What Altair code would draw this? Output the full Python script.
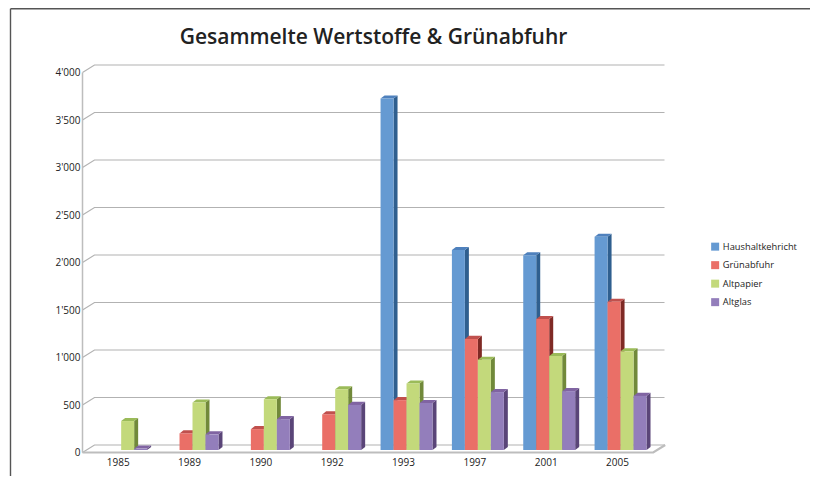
import altair as alt
import pandas as pd

title_text = "Gesammelte Wertstoffe & Grünabfuhr"
years = ["1985", "1989", "1990", "1992", "1993", "1997", "2001", "2005"]
series = ["Haushaltkehricht", "Grünabfuhr", "Altpapier", "Altglas"]
haushalt = [None, None, None, None, 3700, 2105, 2050, 2245]
gruen = [None, 175, 220, 375, 525, 1170, 1380, 1560]
papier = [305, 500, 535, 640, 700, 950, 990, 1040]
glas = [15, 165, 325, 475, 495, 610, 620, 570]
values = [haushalt, gruen, papier, glas]
ticks = [0, 500, 1000, 1500, 2000, 2500, 3000, 3500, 4000]
tick_labels = ["0", "500", "1'000", "1'500", "2'000", "2'500", "3'000", "3'500", "4'000"]
front = ["#659ad2", "#ea6f67", "#c3d97b", "#937ebb"]
side = ["#2f5f8f", "#7f2a25", "#71893a", "#5a4578"]
top = ["#4f81bd", "#c0504d", "#9bbb59", "#8064a2"]

W, H = 582, 387.5
XMAX, YMAX = 8.158, 4079
DX, DY = 0.168, 79          # floor depth, in data units
BW = 0.182                  # bar width
BD_X, BD_Y = 0.056, 32      # bar depth
BASE = 26                   # bar baseline
SHIFT = 0.042

xs = alt.Scale(domain=[0, XMAX], range=[0, W], nice=False, zero=False)
ys = alt.Scale(domain=[0, YMAX], range=[H, 0], nice=False, zero=False)
X = lambda: alt.X("x:Q", scale=xs, axis=None, title=None)
Y = lambda: alt.Y("y:Q", scale=ys, axis=None, title=None)

# walls / grid
grid_rows = []
for t in ticks:
    grid_rows += [{"x": 0, "y": t, "g": t}, {"x": DX, "y": t + DY, "g": t}, {"x": XMAX, "y": t + DY, "g": t}]
grid = alt.Chart(pd.DataFrame(grid_rows)).mark_line(color="#b2b2b2", strokeWidth=1.2, clip=False).encode(
    x=X(), y=Y(), detail="g:N")
floor_df = pd.DataFrame([{"x": 0, "y": 0}, {"x": 8, "y": 0}, {"x": 8 + DX, "y": DY}])
floor = alt.Chart(floor_df).mark_line(color="#bdbdbd", strokeWidth=2.2, clip=False).encode(x=X(), y=Y())
axis_df = pd.DataFrame([{"x": 0, "y": 0}, {"x": 0, "y": 4000}])
yline = alt.Chart(axis_df).mark_line(color="#bdbdbd", strokeWidth=1.5, clip=False).encode(x=X(), y=Y())

ylab = alt.Chart(pd.DataFrame({"x": [0] * 9, "y": ticks, "t": tick_labels})).mark_text(
    align="right", baseline="middle", dx=-2, dy=0.5, fontSize=10, font="Open Sans", color="#222222").encode(
    x=X(), y=Y(), text="t:N")
xlab = alt.Chart(pd.DataFrame({"x": [i + 0.5 for i in range(8)], "y": [0] * 8, "t": years})).mark_text(
    align="center", baseline="middle", dy=10.5, fontSize=10, font="Open Sans", color="#222222").encode(
    x=X(), y=Y(), text="t:N")

layers = [grid, floor, yline, ylab, xlab]

# bars
for s, (name, vals) in enumerate(zip(series, values)):
    front_rows, side_rows, top_rows = [], [], []
    for i, v in enumerate(vals):
        if v is None:
            continue
        xl = i + 0.5 + SHIFT + (s - 2) * BW
        xr = xl + BW
        b, t = BASE, BASE + v
        bid = f"b{s}_{i}"
        front_rows.append({"x": xl, "x2": xr, "y": t, "y2": b, "series": name})
        side_rows += [{"x": xr, "y": t, "y2": b, "id": bid},
                      {"x": xr + BD_X, "y": t + BD_Y, "y2": b + BD_Y, "id": bid}]
        top_rows += [{"x": xl, "y": t, "y2": t, "id": bid},
                     {"x": xl + BD_X, "y": t + BD_Y, "y2": t, "id": bid},
                     {"x": xr, "y": t + BD_Y, "y2": t, "id": bid},
                     {"x": xr + BD_X, "y": t + BD_Y, "y2": t + BD_Y, "id": bid}]
    layers.append(alt.Chart(pd.DataFrame(side_rows)).mark_area(color=side[s], orient="vertical", opacity=1).encode(
        x=X(), y=Y(), y2="y2:Q", detail="id:N"))
    layers.append(alt.Chart(pd.DataFrame(top_rows)).mark_area(color=top[s], orient="vertical", opacity=1).encode(
        x=X(), y=Y(), y2="y2:Q", detail="id:N"))
    layers.append(alt.Chart(pd.DataFrame(front_rows)).mark_rect().encode(
        x=X(), x2="x2:Q", y=Y(), y2="y2:Q",
        color=alt.Color("series:N", sort=None,
                        scale=alt.Scale(domain=series, range=front),
                        legend=alt.Legend(title=None, orient="none", legendX=628, legendY=177,
                                          symbolType="square", symbolSize=64, symbolStrokeWidth=0,
                                          labelFontSize=9.3, labelFont="Open Sans", labelColor="#222222",
                                          rowPadding=8.5, labelOffset=3, padding=0))))

# chart title as text
layers.append(alt.Chart(pd.DataFrame({"t": [title_text]})).mark_text(
    font="Open Sans", fontSize=21, fontWeight=600, color="#222222", align="center", baseline="middle").encode(
    x=alt.value(291), y=alt.value(-27), text="t:N"))

# outer frame of the picture
frame_dark = "#555555"
layers.append(alt.Chart(pd.DataFrame({"a": [0]})).mark_rule(color=frame_dark, strokeWidth=1.4).encode(
    x=alt.value(-72), y=alt.value(-56.3), x2=alt.value(736)))
layers.append(alt.Chart(pd.DataFrame({"a": [0]})).mark_rule(color=frame_dark, strokeWidth=1.4).encode(
    x=alt.value(-72), y=alt.value(-56.3), y2=alt.value(420)))

chart = alt.layer(*layers).properties(
    width=W, height=H,
    autosize=alt.AutoSizeParams(type="none"),
    padding={"left": 74.5, "right": 145, "top": 57, "bottom": 23.5},
).configure_view(stroke=None)

chart.save("out.html", embed_options={"renderer": "svg", "actions": False})
